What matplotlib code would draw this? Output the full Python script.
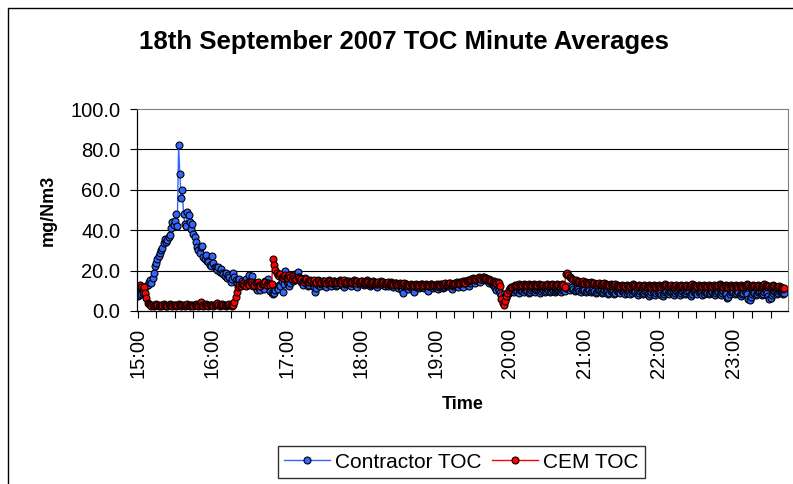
import numpy as np
import matplotlib
matplotlib.use("Agg")
import matplotlib.pyplot as plt
from matplotlib.patches import Rectangle

plt.rcParams['font.family'] = ['Liberation Sans', 'DejaVu Sans']

hour_labels = ["15:00", "16:00", "17:00", "18:00", "19:00", "20:00", "21:00", "22:00", "23:00"]

# Contractor TOC, one value per minute, split by hour
contractor_15 = [7.5, 8.0, 9.5, 8.5, 9.0, 11.0, 8.5, 12.5, 13.0, 14.5,
                 15.5, 14.0, 16.5, 19.0, 22.5, 24.0, 25.5, 27.0, 28.5, 30.0,
                 31.0, 33.5, 35.5, 34.0, 35.0, 36.5, 37.5, 41.0, 44.0, 42.5,
                 44.5, 48.0, 42.0, 82.0, 68.0, 56.0, 60.0, 48.0, 43.0, 42.0,
                 49.0, 47.5, 44.0, 40.5, 43.0, 38.0, 36.5, 34.0, 31.5, 30.0,
                 28.5, 31.5, 32.0, 26.5, 25.5, 27.5, 25.0, 24.5, 23.0, 22.5]
contractor_16 = [27.0, 24.0, 22.0, 21.5, 20.5, 22.0, 19.5, 21.0, 19.0, 18.5,
                 17.5, 19.0, 16.5, 18.0, 17.0, 14.5, 16.0, 19.0, 17.0, 15.5,
                 14.0, 15.5, 16.0, 13.0, 15.0, 13.5, 14.5, 16.0, 13.0, 14.5,
                 18.0, 15.5, 17.5, 13.0, 14.0, 12.5, 10.5, 13.0, 11.5, 10.5,
                 12.0, 13.5, 11.0, 15.0, 14.0, 16.0, 12.0, 10.0, 9.0, 8.5,
                 9.0, 10.5, 12.0, 11.0, 13.0, 12.5, 15.0, 9.5, 13.5, 20.0]
contractor_17 = [15.0, 13.5, 12.5, 14.0, 16.5, 15.0, 17.0, 18.5, 17.5, 19.5,
                 17.0, 16.0, 14.5, 13.0, 15.5, 16.5, 14.0, 12.5, 13.0, 14.5,
                 15.0, 13.5, 12.0, 9.5, 11.5, 13.0, 14.0, 12.5, 13.5, 15.0,
                 14.0, 13.0, 12.0, 13.5, 14.5, 13.0, 12.5, 14.0, 15.0, 13.5,
                 12.5, 13.0, 14.5, 15.5, 14.0, 13.0, 12.0, 13.5, 14.0, 15.0,
                 14.5, 13.0, 12.5, 14.0, 15.5, 14.0, 13.0, 12.0, 13.5, 14.5]
contractor_18 = [15.0, 14.0, 13.0, 13.5, 14.5, 15.5, 14.0, 12.5, 13.0, 14.0,
                 15.0, 14.5, 13.0, 12.0, 13.5, 14.5, 15.0, 14.0, 13.0, 12.5,
                 14.0, 13.5, 12.5, 13.0, 14.5, 13.5, 12.0, 13.0, 14.0, 12.5,
                 11.5, 13.0, 12.0, 10.5, 9.0, 12.5, 13.5, 12.0, 11.0, 12.5,
                 13.0, 12.0, 10.5, 9.5, 12.0, 13.0, 12.5, 11.5, 12.0, 13.5,
                 12.5, 11.5, 13.0, 12.0, 10.0, 12.5, 13.5, 12.0, 11.5, 12.5]
contractor_19 = [13.0, 12.5, 11.0, 12.0, 13.5, 12.5, 11.5, 12.0, 13.0, 12.5,
                 13.5, 14.0, 12.5, 11.0, 12.5, 13.5, 14.0, 13.0, 12.0, 13.5,
                 14.5, 13.0, 12.0, 14.0, 15.0, 14.5, 13.0, 12.5, 14.0, 15.5,
                 16.0, 15.0, 14.0, 15.5, 16.5, 15.5, 14.5, 16.0, 17.0, 16.0,
                 15.5, 16.5, 15.0, 14.0, 15.5, 14.5, 13.0, 12.5, 11.5, 10.5,
                 11.5, 10.5, 9.0, 8.0, 7.0, 8.5, 7.5, 6.5, 8.0, 9.0]
contractor_20 = [9.5, 10.5, 10.0, 9.5, 10.5, 11.5, 10.0, 9.0, 10.5, 11.0,
                 10.0, 9.5, 10.5, 11.0, 10.0, 9.0, 9.5, 10.5, 11.5, 10.0,
                 9.5, 10.5, 11.0, 10.0, 9.0, 10.0, 11.0, 10.5, 9.5, 10.0,
                 11.0, 10.5, 9.5, 10.0, 11.0, 10.5, 9.5, 10.0, 10.5, 11.0,
                 10.0, 9.5, 10.5, 11.0, 10.0, 11.5, 12.5, 11.0, 10.5, 11.5,
                 12.0, 11.0, 10.0, 10.5, 11.5, 11.0, 10.0, 9.5, 10.5, 11.0]
contractor_21 = [10.5, 9.5, 10.0, 11.0, 10.5, 9.5, 10.0, 11.0, 10.0, 9.0,
                 9.5, 10.5, 11.0, 10.0, 9.0, 9.5, 10.5, 10.0, 9.5, 8.5,
                 9.0, 10.0, 10.5, 9.5, 8.5, 9.0, 10.0, 10.5, 9.5, 9.0,
                 10.0, 10.5, 9.5, 8.5, 9.0, 10.0, 9.5, 8.5, 9.0, 10.0,
                 10.5, 9.5, 9.0, 8.0, 9.0, 10.0, 9.5, 8.5, 9.0, 10.0,
                 9.5, 8.5, 7.5, 8.5, 9.5, 10.0, 9.0, 8.0, 9.0, 9.5]
contractor_22 = [10.0, 9.0, 8.0, 7.5, 8.5, 9.5, 10.0, 9.0, 8.5, 9.5,
                 10.0, 9.0, 8.0, 9.0, 10.0, 9.5, 8.5, 8.0, 9.0, 10.0,
                 9.5, 8.5, 9.0, 10.0, 9.5, 8.0, 7.5, 8.5, 9.5, 10.0,
                 9.0, 8.5, 9.5, 10.0, 9.0, 8.0, 8.5, 9.5, 10.0, 9.0,
                 8.5, 9.0, 10.0, 9.5, 8.5, 8.0, 9.0, 10.0, 9.5, 8.5,
                 8.0, 9.0, 10.0, 9.0, 8.5, 6.5, 7.0, 8.5, 9.5, 10.0]
contractor_23 = [9.5, 8.5, 9.0, 10.0, 9.5, 8.0, 7.5, 8.5, 9.0, 10.0,
                 9.5, 8.5, 6.0, 5.5, 7.0, 8.5, 9.5, 9.0, 8.0, 8.5,
                 9.5, 10.0, 9.0, 8.0, 8.5, 9.5, 10.0, 9.0, 7.5, 6.0,
                 6.5, 8.0, 9.0, 10.0, 9.5, 8.5, 9.0, 10.0, 9.5, 9.0,
                 8.5, 9.0]

# CEM TOC, one value per minute, split by hour
cem_15 = [12.0, 12.5, 13.0, 12.0, 11.5, 12.0, 9.0, 6.5, 4.0, 3.5,
          3.0, 2.5, 3.0, 2.5, 3.0, 3.5, 3.0, 2.5, 3.0, 2.5,
          3.0, 3.5, 3.0, 2.5, 2.5, 3.0, 3.5, 3.0, 2.5, 3.0,
          3.0, 2.5, 3.0, 3.5, 3.0, 2.5, 3.0, 3.0, 2.5, 3.0,
          3.5, 3.0, 2.5, 3.0, 3.0, 2.5, 3.0, 3.5, 3.0, 2.5,
          3.0, 4.5, 3.0, 2.5, 3.0, 3.5, 3.0, 2.5, 3.0, 3.0]
cem_16 = [3.0, 2.5, 3.0, 3.5, 4.0, 3.0, 2.5, 3.0, 3.5, 3.0,
          3.0, 2.5, 3.0, 3.0, 3.5, 3.0, 2.5, 3.0, 4.5, 7.0,
          9.5, 12.0, 13.0, 12.5, 13.5, 14.0, 13.0, 12.5, 14.0, 13.5,
          13.0, 14.5, 13.5, 12.5, 13.0, 14.0, 13.5, 14.5, 13.0, 12.5,
          13.5, 14.0, 13.5, 14.5, 13.0, 14.0, 13.5, 13.0, 13.5, 25.5,
          23.0, 20.5, 19.0, 18.0, 17.5, 18.5, 17.0, 16.5, 17.5, 18.0]
cem_17 = [17.0, 16.5, 18.0, 17.0, 16.0, 17.5, 16.5, 15.5, 16.0, 17.0,
          16.5, 15.5, 16.0, 15.0, 14.5, 15.5, 16.0, 15.0, 14.5, 15.5,
          15.0, 14.5, 15.5, 14.0, 14.5, 15.5, 15.0, 14.0, 14.5, 15.0,
          14.5, 15.0, 14.0, 14.5, 15.5, 15.0, 14.0, 14.5, 15.0, 14.5,
          14.0, 14.5, 15.0, 14.5, 14.0, 15.0, 15.5, 14.5, 14.0, 14.5,
          15.0, 14.5, 14.0, 14.5, 15.0, 14.5, 14.0, 15.0, 14.5, 14.0]
cem_18 = [14.5, 15.0, 14.5, 14.0, 14.5, 15.0, 14.5, 14.0, 13.5, 14.0,
          14.5, 14.0, 13.5, 14.0, 14.5, 14.0, 13.5, 14.0, 14.5, 14.0,
          13.5, 14.0, 14.5, 14.0, 13.5, 13.0, 13.5, 14.0, 13.5, 13.0,
          13.5, 14.0, 13.5, 13.0, 13.5, 14.0, 13.5, 13.0, 12.5, 13.0,
          13.5, 13.0, 12.5, 13.0, 13.5, 13.0, 12.5, 13.0, 13.5, 13.0,
          12.5, 13.0, 13.5, 13.0, 12.5, 13.0, 13.5, 13.0, 12.5, 13.0]
cem_19 = [13.0, 13.5, 13.0, 12.5, 13.0, 13.5, 13.0, 13.5, 14.0, 13.5,
          13.0, 13.5, 14.0, 13.5, 13.0, 13.5, 14.0, 14.5, 14.0, 13.5,
          14.0, 14.5, 15.0, 14.5, 14.0, 15.0, 15.5, 15.0, 15.5, 16.0,
          16.5, 16.0, 15.5, 16.0, 16.5, 17.0, 16.5, 16.0, 16.5, 17.0,
          16.5, 16.0, 15.5, 16.0, 15.5, 15.0, 14.5, 15.0, 14.5, 14.0,
          14.5, 14.0, 12.5, 6.0, 4.0, 3.0, 5.0, 7.5, 9.0, 10.5]
cem_20 = [11.5, 12.0, 12.0, 12.5, 13.0, 12.5, 13.0, 13.5, 13.0, 12.5,
          13.0, 13.5, 13.0, 12.5, 13.0, 13.5, 13.0, 12.5, 13.0, 13.5,
          13.0, 12.5, 13.0, 13.5, 13.0, 12.5, 13.0, 13.0, 12.5, 13.0,
          13.5, 13.0, 12.5, 13.0, 13.5, 13.0, 12.5, 13.0, 13.5, 13.0,
          12.5, 13.0, 13.5, 13.0, 12.0, 18.5, 19.0, 18.0, 17.0, 16.5,
          16.0, 15.5, 15.0, 15.5, 14.5, 15.0, 14.5, 14.0, 14.5, 15.0]
cem_21 = [14.0, 14.5, 14.0, 13.5, 14.0, 14.5, 14.0, 13.5, 14.0, 13.5,
          13.0, 13.5, 14.0, 13.5, 13.0, 13.5, 14.0, 13.5, 13.0, 12.5,
          13.0, 13.5, 13.0, 12.5, 13.0, 13.5, 13.0, 12.5, 12.0, 12.5,
          13.0, 12.5, 12.0, 12.5, 13.0, 12.5, 12.0, 12.5, 13.0, 13.5,
          13.0, 12.5, 12.0, 12.5, 13.0, 12.5, 12.0, 12.5, 13.0, 12.5,
          12.0, 12.5, 13.0, 12.5, 12.0, 12.5, 13.0, 12.5, 12.0, 12.5]
cem_22 = [13.0, 12.5, 12.0, 12.5, 13.0, 13.5, 13.0, 12.5, 12.0, 12.5,
          13.0, 12.5, 12.0, 12.5, 13.0, 12.5, 12.0, 12.5, 13.0, 12.5,
          12.0, 12.5, 13.0, 12.5, 12.0, 12.5, 13.0, 13.5, 13.0, 12.5,
          12.0, 12.5, 13.0, 12.5, 12.0, 12.5, 13.0, 12.5, 12.0, 12.5,
          13.0, 12.5, 12.0, 12.5, 13.0, 12.5, 12.0, 12.5, 13.0, 13.5,
          13.0, 12.5, 12.0, 12.5, 13.0, 12.5, 12.0, 12.5, 13.0, 12.5]
cem_23 = [12.0, 12.5, 13.0, 12.5, 12.0, 12.5, 13.0, 12.5, 12.0, 12.5,
          13.0, 13.5, 13.0, 12.5, 12.0, 12.5, 13.0, 12.5, 12.0, 12.5,
          13.0, 12.5, 12.0, 12.5, 13.0, 13.5, 13.0, 12.5, 12.0, 12.5,
          12.0, 12.5, 13.0, 12.5, 12.0, 11.5, 12.0, 12.5, 12.0, 11.5,
          11.0, 11.5]

contractor = (contractor_15 + contractor_16 + contractor_17 + contractor_18 + contractor_19
              + contractor_20 + contractor_21 + contractor_22 + contractor_23)
cem = cem_15 + cem_16 + cem_17 + cem_18 + cem_19 + cem_20 + cem_21 + cem_22 + cem_23
minutes = np.arange(len(contractor))

fig = plt.figure(figsize=(7.93, 4.84), dpi=100)
ax = fig.add_axes([137 / 793, 1 - 311 / 484, (788 - 137) / 793, (311 - 109) / 484])

# outer chart border (Excel chart area)
fig.add_artist(Rectangle((8 / 793, -0.1), 1.2, 1.1 - 8 / 484, transform=fig.transFigure,
                         fill=False, edgecolor='black', linewidth=1.0))

ax.plot(minutes, contractor, color='#3366FF', linewidth=1.0, marker='o', markersize=5,
        markerfacecolor='#3366FF', markeredgecolor='black', markeredgewidth=0.8,
        label='Contractor TOC')
ax.plot(minutes, cem, color='#FF0000', linewidth=1.0, marker='o', markersize=5,
        markerfacecolor='#FF0000', markeredgecolor='black', markeredgewidth=0.8,
        label='CEM TOC')

ax.set_ylim(0, 100)
ax.set_xlim(-0.5, 524)
ax.set_yticks([0, 20, 40, 60, 80, 100])
ax.set_yticklabels(["0.0", "20.0", "40.0", "60.0", "80.0", "100.0"], fontsize=14.5)
ax.set_xticks(np.arange(0, 481, 60))
ax.set_xticklabels(hour_labels, rotation=90, fontsize=14.5)
ax.set_xticks(np.arange(0, 524, 15), minor=True)
ax.tick_params(axis='both', which='both', direction='out', length=5, width=0.8,
               colors='black', pad=7)

for v in [20, 40, 60, 80]:
    ax.axhline(v, color='black', linewidth=0.8, zorder=0)
ax.spines['top'].set_color('#808080')
ax.spines['right'].set_color('#808080')
ax.spines['left'].set_linewidth(0.9)
ax.spines['bottom'].set_linewidth(0.9)

ax.set_ylabel('mg/Nm3', fontsize=13, fontweight='bold', labelpad=10)
ax.set_xlabel('Time', fontsize=13, fontweight='bold', labelpad=13)
fig.text(0.51, 1 - 42 / 484, '18th September 2007 TOC Minute Averages',
         fontsize=18.5, fontweight='bold', ha='center', va='center')

leg = fig.legend(loc='center', bbox_to_anchor=(461 / 793, 1 - 462 / 484), ncol=2,
                 fontsize=15, frameon=True, fancybox=False, edgecolor='black',
                 handlelength=2.2, columnspacing=0.5, handletextpad=0.25, borderpad=0.3,
                 borderaxespad=0)
leg.get_frame().set_linewidth(1.0)

fig.savefig('out.png', dpi=100)
